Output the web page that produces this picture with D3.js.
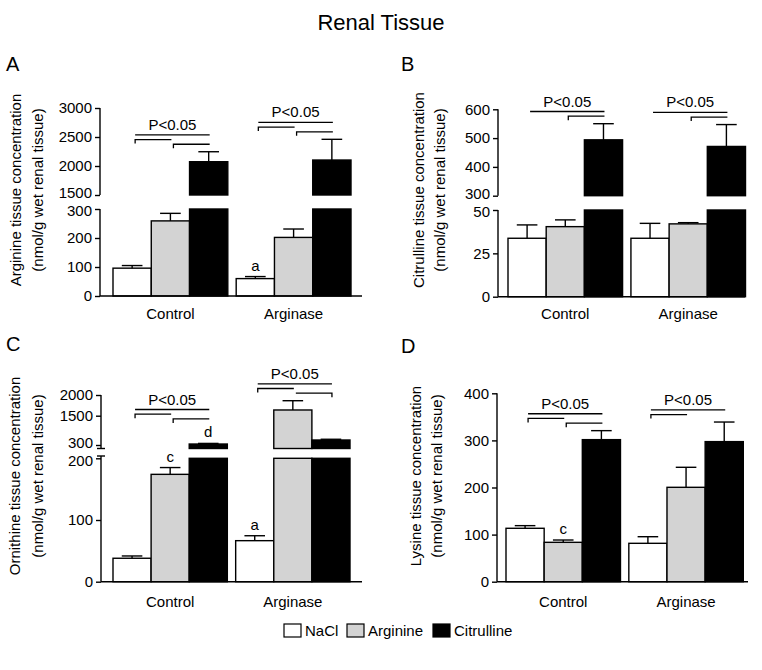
<!DOCTYPE html>
<html>
<head>
<meta charset="utf-8">
<script src="https://cdn.jsdelivr.net/npm/d3@7"></script>
<style>
  body { margin: 0; background: #fff; }
  svg { display: block; font-family: Arial, "Liberation Sans", Helvetica, sans-serif; }
</style>
</head>
<body>
<svg id="chart" width="762" height="670"></svg>
<script>
// ---------------- DATA ----------------
const categories = ["Control", "Arginase"];
const series = ["NaCl", "Arginine", "Citrulline"];

// Panel A: Arginine (mean, SEM) [group][series]
const arginineMean = [[96, 259, 2074], [60, 202, 2103]];
const arginineSem  = [[9, 26, 172], [7, 29, 357]];
const arginineTicksLow = [0, 100, 200, 300];
const arginineTicksHigh = [1500, 2000, 2500, 3000];

// Panel B: Citrulline
const citrullineMean = [[33.7, 40.4, 494], [33.7, 42, 471]];
const citrullineSem  = [[7.7, 3.9, 56], [8.6, 0.7, 76]];
const citrullineTicksLow = [0, 25, 50];
const citrullineTicksHigh = [300, 400, 500, 600];

// Panel C: Ornithine
const ornithineMean = [[38, 174, 340], [66.5, 1638, 505]];
const ornithineSem  = [[3.7, 11, 25], [8, 224, 30]];
const ornithineTicksLow = [0, 100, 200];
const ornithineTicksHigh = [300, 1500, 2000];

// Panel D: Lysine
const lysineMean = [[113.4, 83.6, 301.6], [81.5, 200.4, 297.4]];
const lysineSem  = [[5.6, 4.9, 19.1], [14, 42.5, 41.6]];
const lysineTicks = [0, 100, 200, 300, 400];

// letters above bars: [group, series, text]
const arginineLetters = [[1, 0, "a"]];
const citrullineLetters = [];
const ornithineLetters = [[0, 1, "c"], [0, 2, "d"], [1, 0, "a"]];
const lysineLetters = [[0, 1, "c"]];

// significance brackets per group: [fromSeries, toSeries, tickSide]
const arginineBrackets = [
  [[0, 2, ""], [0, 1, "L"], [1, 2, "L"]],
  [[0, 2, ""], [0, 1, "L"], [1, 2, "L"]]
];
const citrullineBrackets = [
  [[0, 2, ""], [1, 2, "L"]],
  [[0, 2, ""], [1, 2, "L"]]
];
const ornithineBrackets = [
  [[0, 2, ""], [0, 1, "L"], [1, 2, "L"]],
  [[0, 2, ""], [0, 1, "L"], [1, 2, "R"]]
];
const lysineBrackets = [
  [[0, 2, ""], [0, 1, "L"], [1, 2, "L"]],
  [[0, 2, ""], [0, 1, "L"]]
];
const sigText = "P<0.05";

// ---------------- STYLE ----------------
const fills = ["#ffffff", "#d3d3d3", "#000000"];
const FONT = 15;

const svg = d3.select("#chart");

svg.append("text").attr("x", 381).attr("y", 30).attr("text-anchor", "middle")
  .attr("font-size", 22).text("Renal Tissue");

function panel(cfg) {
  const g = svg.append("g");
  const x0 = d3.scaleBand().domain(categories).range([cfg.barStart, cfg.barEnd]).paddingInner(0.068).paddingOuter(0);
  const x1 = d3.scaleBand().domain(series).range([0, x0.bandwidth()]).padding(0);
  const segs = cfg.segments.map(s => ({...s, scale: d3.scaleLinear().domain(s.domain).range(s.range)}));

  function segFor(v) {
    for (let i = segs.length - 1; i >= 0; i--) {
      const d = segs[i].domain;
      if (v >= d[0] && (i === segs.length - 1 || v <= d[d.length - 1]) ) return segs[i];
    }
    return segs[0];
  }
  function yOf(v) {
    const s = segFor(v);
    if (segs.length > 1 && s === segs[0] && v > s.domain[s.domain.length - 1]) return s.scale(s.domain[s.domain.length - 1]);
    return s.scale(v);
  }

  // bars
  const tops = [];
  categories.forEach((cat, gi) => {
    tops[gi] = [];
    series.forEach((ser, si) => {
      const v = cfg.mean[gi][si];
      const bx = x0(cat) + x1(ser);
      const bw = x1.bandwidth();
      segs.forEach(s => {
        const lo = s.domain[0], hi = s.domain[s.domain.length - 1];
        if (v <= lo) return;
        const top = Math.min(v, hi);
        const yT = s.scale(top), yB = s.scale(lo);
        g.append("rect").attr("x", bx).attr("y", yT).attr("width", bw).attr("height", yB - yT)
          .attr("fill", fills[si]).attr("stroke", "#000").attr("stroke-width", 1.4);
      });
      // error bar
      const e = v + cfg.sem[gi][si];
      const se = segFor(e);
      const yTop = yOf(v), yErr = se.scale(e);
      const cx = bx + bw / 2;
      g.append("line").attr("x1", cx).attr("x2", cx).attr("y1", yTop).attr("y2", yErr)
        .attr("stroke", "#000").attr("stroke-width", 1.4);
      g.append("line").attr("x1", cx - bw * 0.27).attr("x2", cx + bw * 0.27).attr("y1", yErr).attr("y2", yErr)
        .attr("stroke", "#000").attr("stroke-width", 1.4);
      tops[gi][si] = yErr;
    });
  });

  // letters
  cfg.letters.forEach(([gi, si, t]) => {
    const cx = x0(categories[gi]) + x1(series[si]) + x1.bandwidth() / 2;
    const yb = tops[gi][si] - 6;
    g.append("text").attr("x", cx).attr("y", yb).attr("text-anchor", "middle")
      .attr("font-size", FONT).text(t);
    tops[gi][si] = yb - 11;
  });

  // brackets
  cfg.brackets.forEach((lines, gi) => {
    const base = d3.min(tops[gi]) - 3.5;
    const n = lines.length;
    const cxs = series.map(s => x0(categories[gi]) + x1(s) + x1.bandwidth() / 2);
    let topY = 0, topMid = 0;
    lines.forEach(([a, b, side], k) => {
      const y = base - 4 - (n - 1 - k) * 4.7;
      const xa = cxs[a] + 3, xb = cxs[b] + 1;
      let p = `M${xa},${y}H${xb}`;
      if (side === "L") p = `M${xa},${y + 4}V${y}H${xb}`;
      if (side === "R") p = `M${xa},${y}H${xb}V${y + 4}`;
      g.append("path").attr("d", p).attr("fill", "none").attr("stroke", "#000").attr("stroke-width", 1.3);
      if (k === 0) { topY = y; topMid = (xa + xb) / 2; }
    });
    g.append("text").attr("x", topMid).attr("y", topY - 5).attr("text-anchor", "middle")
      .attr("font-size", FONT).text(sigText);
  });

  // y axes
  segs.forEach((s, si) => {
    const ax = d3.axisLeft(s.scale).tickValues(s.ticks).tickSize(5).tickPadding(3).tickFormat(d3.format("d"));
    const ag = g.append("g").attr("transform", `translate(${cfg.axisX},0)`).call(ax);
    ag.select(".domain").remove();
    ag.selectAll(".tick line").attr("stroke-width", 1.4);
    ag.selectAll("text").attr("font-size", FONT).attr("font-family", "Arial, 'Liberation Sans', sans-serif");
    // nudge labels next to the axis break apart a little
    if (segs.length > 1) {
      const lim = si === 0 ? d3.max(s.ticks) : d3.min(s.ticks);
      const shift = si === 0 ? 1.9 : -1.9;
      ag.selectAll(".tick").filter(d => d === lim).select("text")
        .attr("transform", `translate(0,${shift})`);
    }
    const ext = s.axisExtent || [s.range[0], s.range[s.range.length - 1]];
    g.append("line").attr("x1", cfg.axisX).attr("x2", cfg.axisX).attr("y1", ext[0]).attr("y2", ext[1])
      .attr("stroke", "#000").attr("stroke-width", 1.4);
    (s.caps || []).forEach(cy => {
      g.append("line").attr("x1", cfg.axisX - 4).attr("x2", cfg.axisX + 4).attr("y1", cy).attr("y2", cy)
        .attr("stroke", "#000").attr("stroke-width", 1.4);
    });
  });
  // x axis
  g.append("line").attr("x1", cfg.axisX).attr("x2", cfg.xEnd).attr("y1", cfg.baseline).attr("y2", cfg.baseline)
    .attr("stroke", "#000").attr("stroke-width", 1.4);
  categories.forEach(c => {
    g.append("text").attr("x", x0(c) + x0.bandwidth() / 2).attr("y", cfg.catY).attr("text-anchor", "middle")
      .attr("font-size", FONT).text(c);
  });

  // y label
  cfg.label.forEach((t, i) => {
    g.append("text").attr("transform", `translate(${cfg.labelX[i]},${cfg.labelY}) rotate(-90)`)
      .attr("text-anchor", "middle").attr("dominant-baseline", "central")
      .attr("font-size", FONT).text(t);
  });
  // panel letter
  g.append("text").attr("x", cfg.letterPos[0]).attr("y", cfg.letterPos[1]).attr("font-size", 20).text(cfg.letter);
}

panel({
  letter: "A", letterPos: [6, 71],
  mean: arginineMean, sem: arginineSem, letters: arginineLetters, brackets: arginineBrackets,
  axisX: 100, xEnd: 362, barStart: 113, barEnd: 351, baseline: 296, catY: 319,
  segments: [
    {domain: [0, 300], range: [296, 209], ticks: arginineTicksLow},
    {domain: [1500, 3000], range: [195, 108], ticks: arginineTicksHigh}
  ],
  label: ["Arginine tissue concentration", "(nmol/g wet renal tissue)"], labelX: [15, 37], labelY: 190
});

panel({
  letter: "B", letterPos: [401, 71],
  mean: citrullineMean, sem: citrullineSem, letters: citrullineLetters, brackets: citrullineBrackets,
  axisX: 498, xEnd: 745, barStart: 508, barEnd: 745.5, baseline: 296.7, catY: 319,
  segments: [
    {domain: [0, 50], range: [296.7, 210], ticks: citrullineTicksLow},
    {domain: [300, 600], range: [195.7, 109.3], ticks: citrullineTicksHigh}
  ],
  label: ["Citrulline tissue concentration", "(nmol/g wet renal tissue)"], labelX: [418, 439], labelY: 190
});

panel({
  letter: "C", letterPos: [6, 351],
  mean: ornithineMean, sem: ornithineSem, letters: ornithineLetters, brackets: ornithineBrackets,
  axisX: 101, xEnd: 362, barStart: 113, barEnd: 350, baseline: 581.7, catY: 607,
  segments: [
    {domain: [0, 200], range: [581.7, 458.3], ticks: ornithineTicksLow, axisExtent: [581.7, 456], caps: [456]},
    {domain: [200, 300, 1500, 2000], range: [448.5, 445, 415.7, 395], ticks: ornithineTicksHigh, caps: [448.5]}
  ],
  label: ["Ornithine tissue concentration", "(nmol/g wet renal tissue)"], labelX: [14, 37], labelY: 476
});

panel({
  letter: "D", letterPos: [401, 353],
  mean: lysineMean, sem: lysineSem, letters: lysineLetters, brackets: lysineBrackets,
  axisX: 497, xEnd: 748, barStart: 506, barEnd: 743.3, baseline: 581.7, catY: 607,
  segments: [
    {domain: [0, 400], range: [581.7, 393.3], ticks: lysineTicks}
  ],
  label: ["Lysine tissue concentration", "(nmol/g wet renal tissue)"], labelX: [415, 436], labelY: 476
});

// legend
const leg = svg.append("g").attr("transform", "translate(284,624)");
const legX = [0, 63, 149];
series.forEach((s, i) => {
  leg.append("rect").attr("x", legX[i]).attr("y", 0).attr("width", 17).attr("height", 13)
    .attr("fill", fills[i]).attr("stroke", "#000").attr("stroke-width", 1.2);
  leg.append("text").attr("x", legX[i] + 21).attr("y", 12).attr("font-size", 15).text(s);
});
</script>
</body>
</html>
